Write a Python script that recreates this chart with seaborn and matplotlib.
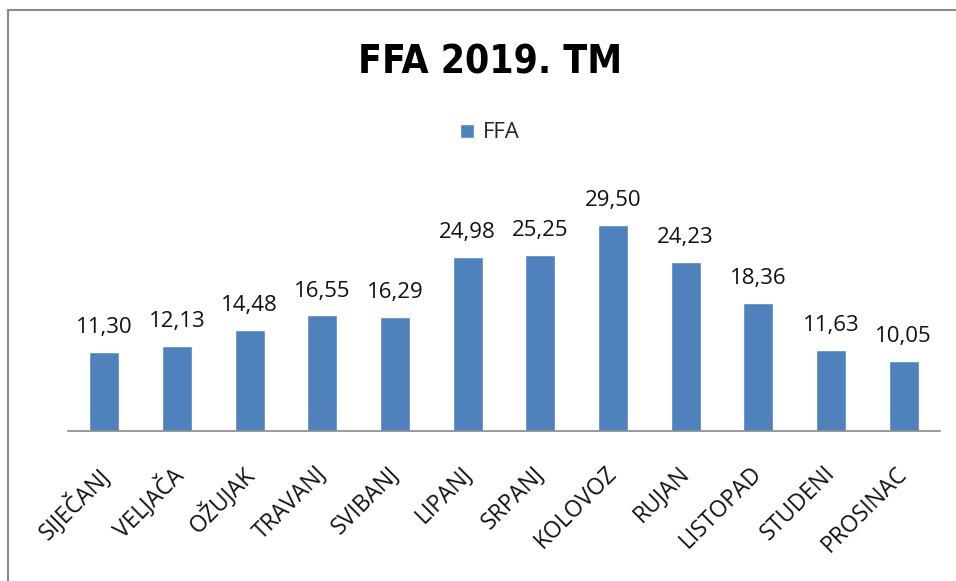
import matplotlib
matplotlib.use("Agg")
import matplotlib.pyplot as plt
import matplotlib.transforms as mtransforms
import seaborn as sns
import pandas as pd
from matplotlib.patches import Rectangle, Patch

months = ["SIJEČANJ", "VELJAČA", "OŽUJAK", "TRAVANJ", "SVIBANJ", "LIPANJ",
          "SRPANJ", "KOLOVOZ", "RUJAN", "LISTOPAD", "STUDENI", "PROSINAC"]
ffa = [11.30, 12.13, 14.48, 16.55, 16.29, 24.98, 25.25, 29.50, 24.23, 18.36, 11.63, 10.05]
title = "FFA 2019. TM"
series_name = "FFA"

sns.set_theme(style="white")
plt.rcParams['font.family'] = ['Open Sans', 'DejaVu Sans']

df = pd.DataFrame({"month": months, "value": ffa})
color = "#4F81BD"

fig = plt.figure(figsize=(9.56, 5.81), dpi=100)
ax = fig.add_axes([68/956, 150/581, 872/956, 244.3/581])
sns.barplot(data=df, x="month", y="value", color=color, width=0.41, ax=ax,
            saturation=1)
ax.set_ylim(0, 35)
ax.set_xlim(-0.5, 11.5)
ax.set_xlabel("")
ax.set_ylabel("")
ax.set_yticks([])
for s in ["top", "right", "left"]:
    ax.spines[s].set_visible(False)
ax.spines["bottom"].set_color("#888888")
ax.spines["bottom"].set_linewidth(1.2)
ax.tick_params(axis="x", length=0, pad=22)
offset = mtransforms.ScaledTranslation(-8/100, 0, fig.dpi_scale_trans)
for lbl in ax.get_xticklabels():
    lbl.set_rotation(45)
    lbl.set_ha("right")
    lbl.set_rotation_mode("anchor")
    lbl.set_fontsize(16.5)
    lbl.set_color("#111111")
    lbl.set_transform(lbl.get_transform() + offset)

for i, v in enumerate(ffa):
    ax.text(i, v + 2.0, f"{v:.2f}".replace(".", ","), ha="center", va="bottom",
            fontsize=16, color="#111111")

fig.text(490/956, 1 - 62/581, title, ha="center", va="center", fontsize=28,
         fontweight="bold", fontstretch="condensed", color="black",
         family=['DejaVu Sans'])

leg = fig.legend(handles=[Patch(facecolor=color, label=series_name)],
                 loc="center", bbox_to_anchor=(490/956, 1 - 133/581), frameon=False,
                 fontsize=16, handlelength=0.6, handleheight=0.6, handletextpad=0.4)

fig.patches.append(Rectangle((8/956, -0.05), 1.0, 1 - 10/581 + 0.05,
                             transform=fig.transFigure, fill=False,
                             edgecolor="#8a8a8a", linewidth=1.5))

fig.savefig("out.png", dpi=100)
